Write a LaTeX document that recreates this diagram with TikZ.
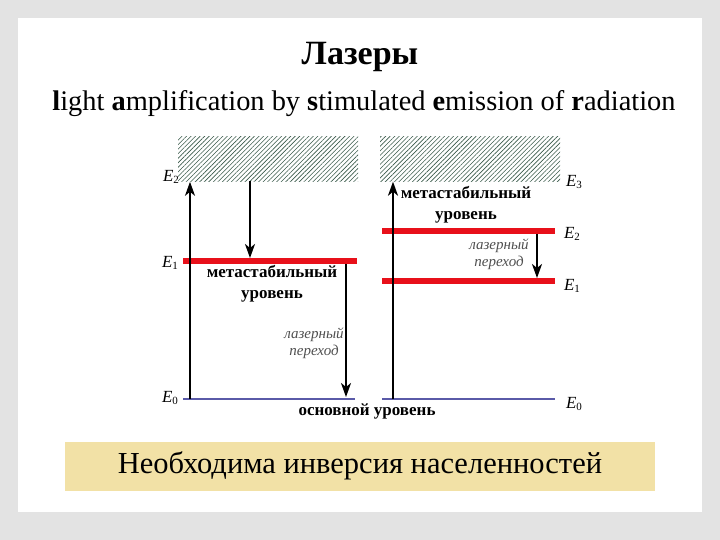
\documentclass[tikz,border=0pt]{standalone}
\usepackage{fontspec}
\setmainfont{Liberation Serif}
\usetikzlibrary{arrows.meta,patterns.meta}
\definecolor{bggray}{HTML}{E3E3E3}
\definecolor{hatchc}{HTML}{3A5A4A}
\definecolor{lvlred}{HTML}{E8101A}
\definecolor{lvlblue}{HTML}{5A5AA8}
\definecolor{tanfill}{HTML}{F2E1A6}
\definecolor{notec}{HTML}{505050}
\begin{document}
\begin{tikzpicture}[x=1pt,y=-1pt,
  band/.style={minimum width=180pt,minimum height=45pt,inner sep=0pt,
    pattern={Lines[angle=45,distance=3.2pt,line width=0.6pt]},pattern color=hatchc},
  redlvl/.style={lvlred,line width=6pt},
  bluelvl/.style={lvlblue,line width=2pt},
  arr/.style={black,line width=2pt,-{Stealth[length=14pt,width=10pt,inset=4pt]}},
  elabel/.style={font=\fontsize{17}{17}\selectfont,inner sep=0pt},
  boldlbl/.style={font=\bfseries\fontsize{17}{21}\selectfont,align=center,inner sep=0pt},
  notelbl/.style={font=\itshape\fontsize{15}{17}\selectfont,text=notec,align=center,inner sep=0pt}]
\fill[bggray] (0,0) rectangle (720,540);
\fill[white] (18,18) rectangle (702,512);
\useasboundingbox (0,0) rectangle (720,540);
\newcommand{\En}[1]{\textit{E}{\fontsize{11}{11}\selectfont\raisebox{-2.5pt}{#1}}}
% titles
\node[font=\bfseries\fontsize{34}{40}\selectfont] (title) at (360,57) {Лазеры};
\node[font=\fontsize{28.4}{32}\selectfont] (sub) at (364,104)
  {\textbf{l}ight \textbf{a}mplification by \textbf{s}timulated \textbf{e}mission of \textbf{r}adiation};
% bands
\node[band] (bandL) at (268,159) {};
\node[band] (bandR) at (470,159) {};
% left levels
\coordinate (L1a) at (183,261); \coordinate (L1b) at (357,261);
\coordinate (L0a) at (183,399); \coordinate (L0b) at (355,399);
\draw[redlvl] (L1a) -- (L1b);
\draw[bluelvl] (L0a) -- (L0b);
% right levels
\coordinate (R2a) at (382,231); \coordinate (R2b) at (555,231);
\coordinate (R1a) at (382,281); \coordinate (R1b) at (555,281);
\coordinate (R0a) at (382,399); \coordinate (R0b) at (555,399);
\draw[redlvl] (R2a) -- (R2b);
\draw[redlvl] (R1a) -- (R1b);
\draw[bluelvl] (R0a) -- (R0b);
% arrows left
\coordinate (Lp0) at (190,399);
\draw[arr] (Lp0) -- (Lp0 |- bandL.south);
\coordinate (Lr0) at (250,181.5); \coordinate (Lr1) at (250,258);
\draw[arr] (Lr0) -- (Lr1);
\coordinate (Ll0) at (346,264); \coordinate (Ll1) at (346,397);
\draw[arr] (Ll0) -- (Ll1);
% arrows right
\coordinate (Rp0) at (393,399);
\draw[arr] (Rp0) -- (Rp0 |- bandR.south);
\coordinate (Rl0) at (537,234); \coordinate (Rl1) at (537,278);
\draw[arr] (Rl0) -- (Rl1);
% E labels
\node[elabel] (lE2) at (171,177) {\En{2}};
\node[elabel] (lE1) at (170,263) {\En{1}};
\node[elabel] (lE0) at (170,398) {\En{0}};
\node[elabel] (rE3) at (574,182) {\En{3}};
\node[elabel] (rE2) at (572,234) {\En{2}};
\node[elabel] (rE1) at (572,286) {\En{1}};
\node[elabel] (rE0) at (574,404) {\En{0}};
% texts
\node[boldlbl] (metaL) at (272,284) {метастабильный\\уровень};
\node[boldlbl] (metaR) at (466,205) {метастабильный\\уровень};
\node[notelbl] (lasL) at (314,343) {лазерный\\переход};
\node[notelbl] (lasR) at (499,254) {лазерный\\переход};
\node[boldlbl] (ground) at (367,411) {основной уровень};
% bottom box
\node[fill=tanfill,minimum width=590pt,minimum height=49pt,inner sep=0pt,
  font=\fontsize{30.5}{34}\selectfont] (inv) at (360,466) {Необходима инверсия населенностей};
\end{tikzpicture}
\end{document}
